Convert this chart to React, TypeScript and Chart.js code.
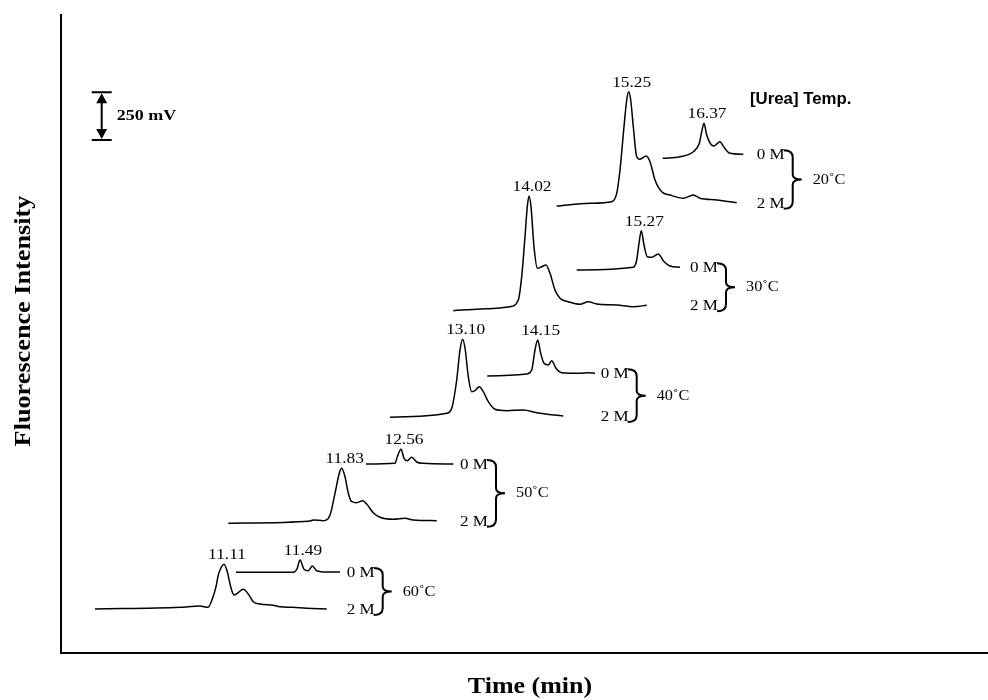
import { useEffect, useRef } from 'react';
import { Chart, registerables } from 'chart.js';

Chart.register(...registerables);

// ---------- data (x: time axis units, y: fluorescence units) ----------
const temperatures = ['60˚C', '50˚C', '40˚C', '30˚C', '20˚C'];
const ureaLabels = ['0 M', '2 M'];

const trace60_0M: number[][] = [
  [175, 80.7], [232.3, 80.7], [236, 84], [239, 93], [243, 83.7], [247.3, 82.3],
  [251.3, 87], [255.7, 82.3], [265.7, 81], [279, 81],
];
const trace60_2M: number[][] = [
  [34, 44], [119, 45.7], [139, 47], [147, 45.7], [152, 56], [155, 66.3], [157.3, 78],
  [159, 83], [163, 88.7], [166.3, 81.3], [169.7, 66.3], [173, 58], [176.3, 59.7],
  [182.3, 63.7], [187.3, 59], [192.3, 51.3], [199, 49], [212.3, 47.7], [219, 46.3],
  [232, 45.7], [245.7, 44.7], [265.7, 44],
];
const trace50_0M: number[][] = [
  [305, 189], [334, 189.7], [336.3, 196.3], [340, 203.7], [343, 194.7], [346.3, 192.3],
  [350.7, 195.7], [355.7, 191], [362.3, 189.7], [392.3, 189],
];
const trace50_2M: number[][] = [
  [167.3, 129.7], [249, 132], [252.3, 133], [262.3, 132.3], [269, 138], [274, 159.7],
  [278.3, 179.7], [280.7, 184.7], [284, 176.3], [287.3, 159.7], [290.7, 151.3],
  [295.7, 150.3], [301.7, 152.3], [305.7, 149], [312.3, 140.3], [319, 135.7],
  [332.3, 133.7], [344, 134.7], [352.3, 133], [375.7, 132.3],
];
const trace40_0M: number[][] = [
  [426.3, 277], [465.7, 279], [470.7, 283], [474, 303], [476.7, 313], [479.7, 299.7],
  [483, 289.7], [487.3, 288], [490.7, 292.3], [495, 284.7], [500.7, 280.3],
  [519, 279.7], [527.3, 280.3], [534, 279.7],
];
const trace40_2M: number[][] = [
  [329, 235.7], [385.7, 239.7], [390.7, 244.7], [395.7, 273], [399, 303], [401.7, 313.7],
  [404.3, 303], [407.3, 276.3], [410.7, 261.3], [414, 262.3], [418.3, 266.3],
  [422.3, 261.3], [427.3, 251.3], [434, 243.7], [445.7, 242.3], [462.3, 243],
  [475.7, 240.3], [502.3, 237],
];
const trace30_0M: number[][] = [
  [515.7, 383], [572.3, 385.7], [575.7, 393], [578, 409.7], [580.3, 422.3], [583, 408],
  [586.3, 396.3], [590.7, 395.7], [597.3, 399], [602.3, 392.3], [609, 387], [619, 385.7],
];
const trace30_2M: number[][] = [
  [392.3, 342.3], [419, 344], [449, 346.3], [457.3, 353], [460.7, 376.3], [464, 416.3],
  [466.3, 446.3], [468, 457], [470, 446.3], [473, 406.3], [476.3, 384.7], [480.7, 386.3],
  [485, 388], [489, 379.7], [494, 363], [499, 354.7], [507.3, 351.3], [519, 348.7],
  [527.3, 351.3], [535.7, 349], [555.7, 348], [572.3, 346.3], [585.7, 347.7],
];
const trace20_0M: number[][] = [
  [601.7, 494.7], [619, 496.3], [632.3, 501.3], [638.3, 509.7], [640.7, 521.3],
  [643, 529.7], [645.7, 518], [649.7, 509], [653, 507], [659, 511.3], [663, 505.7],
  [669, 499.7], [682.3, 498.7],
];
const trace20_2M: number[][] = [
  [495.7, 447], [529, 449.7], [550.7, 451.3], [555.7, 459.7], [559, 483], [563, 526.3],
  [565.7, 553], [567.7, 561.3], [569.7, 553], [572.3, 526.3], [575.7, 496.3],
  [579, 493.7], [585, 497], [589, 491.3], [594, 473], [600.7, 461.3], [609, 458],
  [622.3, 454.7], [632.3, 458], [639, 454.7], [655.7, 453], [675.7, 450.3],
];

// [0 M trace, 2 M trace] per temperature, same order as `temperatures`
const groups0M = [trace60_0M, trace50_0M, trace40_0M, trace30_0M, trace20_0M];
const groups2M = [trace60_2M, trace50_2M, trace40_2M, trace30_2M, trace20_2M];
const peakLabels0M = ['11.49', '12.56', '14.15', '15.27', '16.37'];
const peakLabels2M = ['11.11', '11.83', '13.10', '14.02', '15.25'];
const ureaLabelX = [285.7, 399, 539.7, 629, 695.7];

const scaleBarMV = 250;
const scaleBarUnits = 47.7; // fluorescence units equal to 250 mV
const scaleBarX = 40.7;
const scaleBarBottom = 513;

const X_MAX = 927;
const Y_MAX = 638;

const SERIF = '"Liberation Serif", "Times New Roman", serif';
const SANS = '"Liberation Sans", Arial, sans-serif';

function drawText(
  ctx: CanvasRenderingContext2D, text: string, x: number, y: number,
  font: string, sx: number, align: CanvasTextAlign, baseline: CanvasTextBaseline, rot = 0,
) {
  ctx.save();
  ctx.font = font;
  ctx.fillStyle = '#000';
  ctx.translate(x, y);
  if (rot) ctx.rotate(rot);
  ctx.scale(sx, 1);
  ctx.textAlign = align;
  ctx.textBaseline = baseline;
  ctx.fillText(text, 0, 0);
  ctx.restore();
}

const annotations = {
  id: 'annotations',
  afterDatasetsDraw(chart: any) {
    const { ctx, scales } = chart;
    const xs = scales.x, ys = scales.y;
    const px = (v: number) => xs.getPixelForValue(v);
    const py = (v: number) => ys.getPixelForValue(v);
    const peak = (t: number[][]) => t.reduce((a, b) => (b[1] > a[1] ? b : a));
    const LABEL_FONT = `15.5px ${SERIF}`;

    temperatures.forEach((temp, i) => {
      const t0 = groups0M[i], t2 = groups2M[i];
      const p0 = peak(t0), p2 = peak(t2);
      drawText(ctx, peakLabels0M[i], px(p0[0]) + 3, py(p0[1]) - 5, LABEL_FONT, 1.12, 'center', 'alphabetic');
      drawText(ctx, peakLabels2M[i], px(p2[0]) + 3, py(p2[1]) - 5, LABEL_FONT, 1.12, 'center', 'alphabetic');

      const lx = px(ureaLabelX[i]);
      const y0 = py(t0[t0.length - 1][1]) + 1;
      const y2 = py(t2[t2.length - 1][1]) + 1;
      drawText(ctx, ureaLabels[0], lx, y0, LABEL_FONT, 1.1, 'left', 'middle');
      drawText(ctx, ureaLabels[1], lx, y2, LABEL_FONT, 1.1, 'left', 'middle');

      // brace
      const top = y0 - 5, bottom = y2 + 5, mid = (top + bottom) / 2;
      const xL = lx + 27, xV = xL + 9, xTip = xL + 18;
      ctx.save();
      ctx.strokeStyle = '#000';
      ctx.lineWidth = 2;
      ctx.beginPath();
      ctx.moveTo(xL, top);
      ctx.quadraticCurveTo(xV, top, xV, top + 7);
      ctx.lineTo(xV, mid - 5);
      ctx.quadraticCurveTo(xV, mid, xTip, mid);
      ctx.quadraticCurveTo(xV, mid, xV, mid + 5);
      ctx.lineTo(xV, bottom - 7);
      ctx.quadraticCurveTo(xV, bottom, xL, bottom);
      ctx.stroke();
      ctx.restore();
      drawText(ctx, temp, xTip + 11, mid, LABEL_FONT, 1.05, 'left', 'middle');
    });

    // header
    drawText(ctx, '[Urea] Temp.', 750, 100, `bold 16px ${SANS}`, 1.05, 'left', 'middle');

    // 250 mV scale bar
    const bx = px(scaleBarX);
    const bBot = py(scaleBarBottom);
    const bTop = py(scaleBarBottom + scaleBarUnits);
    ctx.save();
    ctx.strokeStyle = '#000';
    ctx.fillStyle = '#000';
    ctx.lineWidth = 2;
    ctx.beginPath();
    ctx.moveTo(bx - 10, bTop); ctx.lineTo(bx + 10, bTop);
    ctx.moveTo(bx - 10, bBot); ctx.lineTo(bx + 10, bBot);
    ctx.moveTo(bx, bTop + 8); ctx.lineTo(bx, bBot - 8);
    ctx.stroke();
    ctx.beginPath();
    ctx.moveTo(bx, bTop + 1); ctx.lineTo(bx - 5.5, bTop + 11); ctx.lineTo(bx + 5.5, bTop + 11); ctx.closePath();
    ctx.moveTo(bx, bBot - 1); ctx.lineTo(bx - 5.5, bBot - 11); ctx.lineTo(bx + 5.5, bBot - 11); ctx.closePath();
    ctx.fill();
    ctx.restore();
    drawText(ctx, `${scaleBarMV} mV`, bx + 15, (bTop + bBot) / 2, `bold 15px ${SERIF}`, 1.2, 'left', 'middle');

    // axis titles
    drawText(ctx, 'Time (min)', 530, 687, `bold 23px ${SERIF}`, 1.13, 'center', 'middle');
    drawText(ctx, 'Fluorescence Intensity', 24, 321, `bold 23px ${SERIF}`, 1.14, 'center', 'middle', -Math.PI / 2);
  },
};

export default function App() {
  const ref = useRef<HTMLCanvasElement>(null);
  useEffect(() => {
    const all: number[][][] = [];
    groups0M.forEach((t, i) => { all.push(t); all.push(groups2M[i]); });
    const chart = new Chart(ref.current!, {
      type: 'line',
      data: {
        datasets: all.map((t, i) => ({
          label: `${temperatures[Math.floor(i / 2)]} ${ureaLabels[i % 2]}`,
          data: t.map(([x, y]) => ({ x, y })),
          borderColor: '#000',
          borderWidth: 1.5,
          pointRadius: 0,
          fill: false,
          cubicInterpolationMode: 'monotone' as const,
        })),
      },
      options: {
        responsive: false,
        animation: false,
        devicePixelRatio: 1,
        layout: { padding: { left: 61, top: 15, right: 0, bottom: 47 } },
        plugins: { legend: { display: false }, tooltip: { enabled: false }, title: { display: false } },
        scales: {
          x: {
            type: 'linear', min: 0, max: X_MAX,
            grid: { display: false, drawTicks: false },
            ticks: { display: false },
            border: { display: true, color: '#000', width: 2 },
          },
          y: {
            type: 'linear', min: 0, max: Y_MAX,
            grid: { display: false, drawTicks: false },
            ticks: { display: false },
            border: { display: true, color: '#000', width: 2 },
          },
        },
      },
      plugins: [annotations],
    });
    return () => chart.destroy();
  }, []);
  return (
    <div style={{ position: 'fixed', left: 0, top: 0, width: 988, height: 700, background: '#fff' }}>
      <canvas ref={ref} width={988} height={700} style={{ display: 'block', width: 988, height: 700 }} />
    </div>
  );
}
